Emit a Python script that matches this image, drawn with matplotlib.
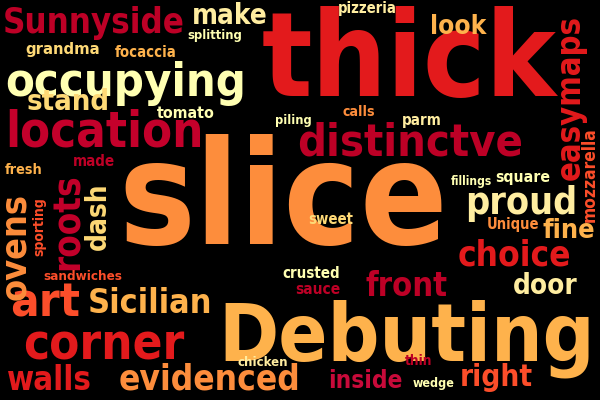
import matplotlib
matplotlib.use("Agg")
import matplotlib.pyplot as plt

# words and rough weights (bigger = more frequent)
words = ["slice", "Debuting", "thick", "occupying", "location", "distinctve",
         "Sunnyside", "easymaps", "evidenced", "corner", "Sicilian", "choice",
         "proud", "roots", "ovens", "walls", "right", "art", "front", "make",
         "inside", "door", "fine", "stand", "look", "dash", "mozzarella",
         "sporting", "sandwiches", "grandma", "focaccia", "tomato", "splitting",
         "Unique", "fillings", "square", "sweet", "crusted", "sauce", "chicken",
         "wedge", "thin", "pizzeria", "calls", "parm", "piling", "made", "fresh"]
weights = [100, 70, 80, 34, 34, 30, 26, 24, 22, 20, 20, 20, 19, 21, 17, 19,
           18, 18, 17, 14, 16, 14, 15, 15, 14, 14, 9, 9, 8, 9, 9, 9, 8, 9, 8,
           8, 8, 8, 8, 7, 7, 7, 7, 7, 7, 7, 7, 8]
colors = ["#fd8d3c", "#feb24c", "#e31a1c", "#ffffb2", "#c4002b", "#bd0026",
          "#bd0026", "#e31a1c", "#fd8d3c", "#e31a1c", "#feb24c", "#e31a1c",
          "#ffeda0", "#c4002b", "#fd8d3c", "#e31a1c", "#fc4e2a", "#fc4e2a",
          "#bd0026", "#ffeda0", "#c80a3a", "#ffeda0", "#feb24c", "#fed976",
          "#feb24c", "#fed976", "#fc4e2a", "#fc4e2a", "#fc4e2a", "#fed976",
          "#feb24c", "#ffffb2", "#ffffb2", "#fd8d3c", "#ffffb2", "#ffffb2",
          "#fed976", "#ffffb2", "#bd0026", "#ffeda0", "#ffffb2", "#bd0026",
          "#ffeda0", "#fd8d3c", "#ffeda0", "#ffffb2", "#bd0026", "#feb24c"]

# layout: pixel box (x0, x1, y0, y1) and rotation for each word
boxes = {
    "slice": (118, 448, 120, 287, 0),
    "Debuting": (218, 595, 282, 395, 0),
    "thick": (262, 557, 0, 128, 0),
    "occupying": (5, 247, 57, 110, 0),
    "location": (5, 204, 115, 150, 0),
    "distinctve": (297, 523, 120, 167, 0),
    "Sunnyside": (3, 185, 5, 42, 0),
    "easymaps": (553, 588, 15, 180, 90),
    "evidenced": (118, 300, 363, 397, 0),
    "corner": (23, 185, 332, 360, 0),
    "Sicilian": (87, 212, 287, 320, 0),
    "choice": (457, 571, 240, 270, 0),
    "proud": (465, 577, 190, 218, 0),
    "roots": (52, 84, 173, 270, 90),
    "ovens": (3, 28, 193, 300, 90),
    "walls": (7, 92, 365, 397, 0),
    "right": (460, 533, 358, 397, 0),
    "art": (10, 80, 290, 318, 0),
    "front": (365, 447, 272, 300, 0),
    "make": (192, 268, 4, 27, 0),
    "inside": (328, 402, 368, 395, 0),
    "door": (513, 578, 275, 298, 0),
    "fine": (542, 595, 215, 247, 0),
    "stand": (27, 110, 90, 115, 0),
    "look": (430, 487, 13, 40, 0),
    "dash": (86, 110, 182, 250, 90),
    "mozzarella": (583, 597, 127, 222, 90),
    "sporting": (32, 47, 197, 257, 90),
    "sandwiches": (43, 122, 272, 282, 0),
    "grandma": (25, 100, 42, 57, 0),
    "focaccia": (115, 177, 47, 58, 0),
    "tomato": (157, 215, 107, 120, 0),
    "splitting": (187, 242, 30, 42, 0),
    "Unique": (487, 540, 218, 232, 0),
    "fillings": (450, 492, 175, 188, 0),
    "square": (495, 550, 172, 183, 0),
    "sweet": (308, 353, 213, 227, 0),
    "crusted": (282, 340, 268, 280, 0),
    "sauce": (295, 340, 284, 295, 0),
    "chicken": (237, 288, 358, 368, 0),
    "wedge": (413, 455, 378, 390, 0),
    "thin": (405, 433, 355, 367, 0),
    "pizzeria": (338, 397, 2, 15, 0),
    "calls": (342, 375, 107, 117, 0),
    "parm": (402, 442, 115, 127, 0),
    "piling": (275, 312, 113, 128, 0),
    "made": (73, 115, 157, 167, 0),
    "fresh": (5, 43, 162, 178, 0),
}

fig = plt.figure(figsize=(6, 4), dpi=100, facecolor="black")
ax = fig.add_axes([0, 0, 1, 1])
ax.set_xlim(0, 600)
ax.set_ylim(400, 0)
ax.set_facecolor("black")
ax.axis("off")

renderer = fig.canvas.get_renderer()

order = sorted(range(len(words)), key=lambda i: -weights[i])
for i in order:
    w = words[i]
    x0, x1, y0, y1, rot = boxes[w]
    cx, cy = (x0 + x1) / 2, (y0 + y1) / 2
    t = ax.text(cx, cy, w, color=colors[i], fontsize=weights[i],
                rotation=rot, ha="center", va="center",
                fontweight="bold", fontstretch="condensed",
                family="DejaVu Sans", rotation_mode="anchor")
    bb = t.get_window_extent(renderer)
    if rot == 0:
        s = (x1 - x0) / bb.width
    else:
        s = (y1 - y0) / bb.height
    t.set_fontsize(weights[i] * s)
    bb = t.get_window_extent(renderer)
    # nudge so the box centre lands on the target centre
    dx = cx - (bb.x0 + bb.x1) / 2
    dy = (400 - cy) - (bb.y0 + bb.y1) / 2
    t.set_position((cx + dx, cy - dy))

fig.savefig("out.png", dpi=100, facecolor="black")
